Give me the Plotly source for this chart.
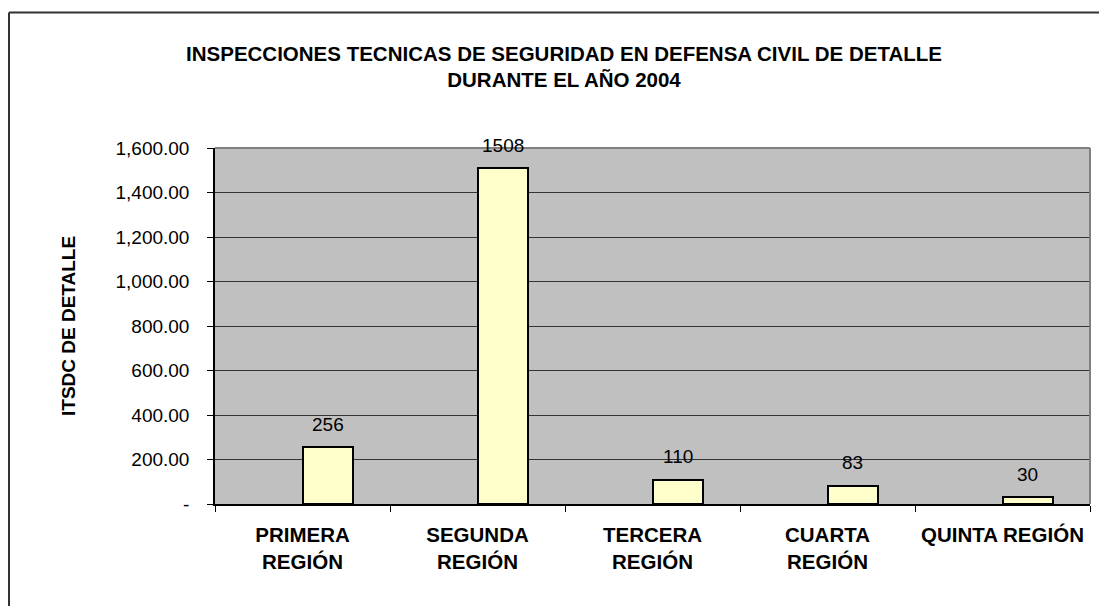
import plotly.graph_objects as go

categories = ["PRIMERA<br>REGIÓN", "SEGUNDA<br>REGIÓN", "TERCERA<br>REGIÓN", "CUARTA<br>REGIÓN", "QUINTA REGIÓN"]
values = [256, 1508, 110, 83, 30]
y_tickvals = [0, 200, 400, 600, 800, 1000, 1200, 1400, 1600]
y_ticktext = ["-", "200.00", "400.00", "600.00", "800.00", "1,000.00", "1,200.00", "1,400.00", "1,600.00"]

# page has 8px body margin; figure sized to fill the remaining window
W, H = 1099, 598
L, R, T, B = 207, 17, 140, 102
pw = W - L - R
ph = H - T - B
FS = 19
FB = 20.5

fig = go.Figure()
fig.add_trace(go.Bar(
    x=categories, y=values,
    width=0.2857, offset=0,
    marker=dict(color="#FFFFCC", line=dict(color="black", width=2)),
))

for c, v in zip(categories, values):
    fig.add_annotation(x=c, y=v, text=str(v), showarrow=False,
                       xanchor="center", yanchor="middle", xshift=25, yshift=23,
                       font=dict(family="Arial", size=FS, color="black"))

fig.update_layout(
    width=W, height=H,
    margin=dict(l=L, r=R, t=T, b=B),
    paper_bgcolor="white", plot_bgcolor="#C0C0C0",
    font=dict(family="Arial", size=FS, color="black"),
    showlegend=False,
    bargap=0,
    title=dict(
        text="<b>INSPECCIONES TECNICAS DE SEGURIDAD EN DEFENSA CIVIL DE DETALLE<br>DURANTE EL AÑO 2004</b>",
        x=556 / W, xanchor="center", xref="container",
        y=1 - 52.5 / H, yanchor="middle", yref="container",
        font=dict(family="Arial", size=FB, color="black"),
    ),
    xaxis=dict(
        type="category", tickson="boundaries", ticks="outside", ticklen=6,
        tickcolor="black", showline=True, linecolor="black", linewidth=1.5,
        showgrid=False, tickfont=dict(family="Arial", size=FB, color="black"),
        range=[-0.5, 4.5], ticklabelstandoff=12,
        tickvals=categories, ticktext=["<b>" + c + "</b>" for c in categories],
    ),
    yaxis=dict(
        range=[0, 1600], tickvals=y_tickvals, ticktext=y_ticktext,
        ticks="outside", ticklen=6, tickcolor="black",
        showline=True, linecolor="black", linewidth=1.5,
        showgrid=True, gridcolor="#333333", gridwidth=1,
        zeroline=False, ticklabelstandoff=14,
        tickfont=dict(family="Arial", size=FS, color="black"),
    ),
)

fig.add_annotation(
    text="<b>ITSDC DE DETALLE</b>", textangle=-90,
    xref="paper", yref="paper", x=0, y=0.5, xanchor="center", yanchor="middle",
    xshift=-(L - 60), showarrow=False,
    font=dict(family="Arial", size=FS, color="black"),
)

# plot-area right and top gray border
fig.add_shape(type="line", xref="paper", yref="paper", x0=1, x1=1, y0=0, y1=1,
              line=dict(color="#808080", width=2))
fig.add_shape(type="line", xref="paper", yref="paper", x0=0, x1=1, y0=1, y1=1,
              line=dict(color="#808080", width=2))

# chart outer frame (top and left)
top = 1 + (T - 4.5) / ph
left = (1 - L) / pw
fig.add_shape(type="line", xref="paper", yref="paper",
              x0=left, x1=(W - L) / pw, y0=top, y1=top,
              line=dict(color="#333333", width=2))
fig.add_shape(type="line", xref="paper", yref="paper",
              x0=left, x1=left, y0=top, y1=-B / ph,
              line=dict(color="#333333", width=2))

fig.write_html("out.html")
